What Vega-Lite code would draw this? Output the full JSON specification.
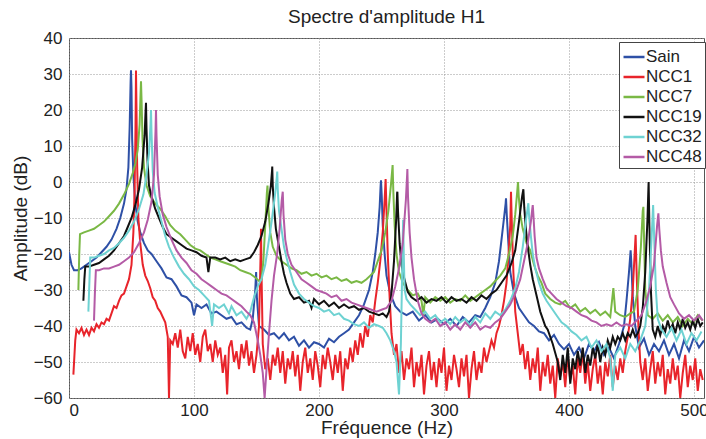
{
"$schema":"https://vega.github.io/schema/vega-lite/v6.json",
"width":635,"height":360,
"autosize":{"type":"none"},
"padding":{"left":69,"top":38,"right":2,"bottom":41},
"background":"white",
"title":{"text":"Spectre d'amplitude H1","fontSize":19,"fontWeight":"normal","font":"Liberation Sans","color":"#222","baseline":"bottom","offset":-17,"anchor":"middle"},
"config":{
"font":"Liberation Sans",
"view":{"stroke":"#555","strokeWidth":1},
"axis":{"domain":false,"ticks":false,"grid":true,"gridColor":"#999","gridDash":[1,2],"gridWidth":1,"labelFontSize":17,"labelColor":"#222","titleFontSize":19,"titleFontWeight":"normal","titleColor":"#222","labelFont":"Liberation Sans","titleFont":"Liberation Sans"}
},
"datasets":{
"sain":[{"f":0,"a":-19.5},{"f":2,"a":-23},{"f":4,"a":-24.5},{"f":7,"a":-24.5},{"f":10,"a":-24},{"f":14,"a":-23},{"f":18,"a":-22},{"f":22,"a":-21},{"f":26,"a":-19.5},{"f":30,"a":-18},{"f":34,"a":-16},{"f":38,"a":-13},{"f":41,"a":-10},{"f":44,"a":-6},{"f":46,"a":-2},{"f":47.5,"a":4},{"f":48.5,"a":15},{"f":49.3,"a":28},{"f":49.6,"a":31},{"f":50,"a":26},{"f":50.5,"a":12},{"f":51.5,"a":2},{"f":53,"a":-6},{"f":55,"a":-11},{"f":57,"a":-14},{"f":60,"a":-17},{"f":63,"a":-19},{"f":66,"a":-20},{"f":70,"a":-22},{"f":74,"a":-24},{"f":78,"a":-26.5},{"f":82,"a":-27},{"f":86,"a":-29},{"f":90,"a":-31.5},{"f":94,"a":-32},{"f":98,"a":-33.5},{"f":100,"a":-37},{"f":102,"a":-34},{"f":106,"a":-35},{"f":110,"a":-34},{"f":114,"a":-36.5},{"f":118,"a":-36},{"f":122,"a":-37},{"f":126,"a":-38},{"f":130,"a":-37.5},{"f":134,"a":-39.5},{"f":138,"a":-39},{"f":142,"a":-40.5},{"f":145,"a":-41},{"f":147,"a":-38},{"f":149,"a":-30},{"f":149.7,"a":-25},{"f":150.3,"a":-32},{"f":152,"a":-40},{"f":156,"a":-41},{"f":160,"a":-42.5},{"f":164,"a":-42},{"f":168,"a":-43.5},{"f":172,"a":-42},{"f":176,"a":-44},{"f":180,"a":-43},{"f":184,"a":-45.5},{"f":188,"a":-44},{"f":192,"a":-46},{"f":196,"a":-44.5},{"f":200,"a":-45},{"f":204,"a":-46},{"f":208,"a":-43.5},{"f":212,"a":-44.5},{"f":216,"a":-43},{"f":220,"a":-42},{"f":224,"a":-41},{"f":228,"a":-39},{"f":232,"a":-37},{"f":236,"a":-34},{"f":240,"a":-30},{"f":243,"a":-25},{"f":245,"a":-20},{"f":247,"a":-14},{"f":248.5,"a":-7},{"f":249.3,"a":-1},{"f":249.6,"a":0.5},{"f":250.2,"a":-4},{"f":251,"a":-12},{"f":252.5,"a":-20},{"f":254,"a":-26},{"f":257,"a":-31},{"f":261,"a":-34.5},{"f":265,"a":-36},{"f":270,"a":-37},{"f":275,"a":-36},{"f":280,"a":-38.5},{"f":285,"a":-37},{"f":290,"a":-39},{"f":295,"a":-38},{"f":300,"a":-39.5},{"f":305,"a":-38},{"f":310,"a":-40},{"f":315,"a":-37.5},{"f":320,"a":-39},{"f":325,"a":-37},{"f":329,"a":-37.5},{"f":333,"a":-35},{"f":337,"a":-32},{"f":341,"a":-28},{"f":344,"a":-22},{"f":346,"a":-16},{"f":348,"a":-10},{"f":349.3,"a":-6},{"f":349.6,"a":-4.5},{"f":350.2,"a":-9},{"f":351.5,"a":-17},{"f":353,"a":-25},{"f":356,"a":-31},{"f":360,"a":-35},{"f":364,"a":-37},{"f":368,"a":-39},{"f":372,"a":-40},{"f":376,"a":-41.5},{"f":380,"a":-42},{"f":384,"a":-44},{"f":388,"a":-42.5},{"f":392,"a":-45},{"f":396,"a":-46.5},{"f":400,"a":-45},{"f":404,"a":-48},{"f":408,"a":-46},{"f":412,"a":-49},{"f":416,"a":-45},{"f":420,"a":-47},{"f":424,"a":-44.5},{"f":428,"a":-48},{"f":432,"a":-46},{"f":436,"a":-49},{"f":440,"a":-45},{"f":444,"a":-40},{"f":446,"a":-33},{"f":448,"a":-25},{"f":449.3,"a":-19},{"f":449.8,"a":-22},{"f":451,"a":-32},{"f":453,"a":-40},{"f":456,"a":-46},{"f":460,"a":-43.5},{"f":464,"a":-48},{"f":468,"a":-45},{"f":472,"a":-47},{"f":476,"a":-44},{"f":480,"a":-48},{"f":484,"a":-45},{"f":488,"a":-49},{"f":492,"a":-44},{"f":496,"a":-47},{"f":500,"a":-43},{"f":504,"a":-46},{"f":508,"a":-44}],
"ncc1":[{"f":3.5,"a":-53.5},{"f":5,"a":-44},{"f":6,"a":-41},{"f":8,"a":-42},{"f":10,"a":-40.5},{"f":12,"a":-42.5},{"f":14,"a":-41},{"f":16,"a":-42.5},{"f":18,"a":-40.5},{"f":20,"a":-41.5},{"f":22,"a":-39.5},{"f":24,"a":-40.5},{"f":26,"a":-39},{"f":28,"a":-39.5},{"f":30,"a":-38},{"f":32,"a":-38.5},{"f":34,"a":-36.5},{"f":36,"a":-34.5},{"f":38,"a":-35},{"f":40,"a":-33},{"f":42,"a":-31.5},{"f":44,"a":-31},{"f":46,"a":-29},{"f":48,"a":-27},{"f":50,"a":-23},{"f":51.5,"a":-14},{"f":52.5,"a":-2},{"f":53.2,"a":15},{"f":53.6,"a":31},{"f":54,"a":20},{"f":54.5,"a":5},{"f":55.5,"a":-10},{"f":57,"a":-17},{"f":59,"a":-23},{"f":61,"a":-26},{"f":63,"a":-27.5},{"f":65,"a":-29.5},{"f":67,"a":-32},{"f":69,"a":-33},{"f":71,"a":-35},{"f":73,"a":-36},{"f":75,"a":-37.5},{"f":77,"a":-39},{"f":79,"a":-43},{"f":80,"a":-60},{"f":81,"a":-44},{"f":83,"a":-45},{"f":85,"a":-42},{"f":87,"a":-46},{"f":89,"a":-41},{"f":91,"a":-47},{"f":93,"a":-49},{"f":95,"a":-43},{"f":97,"a":-47},{"f":99,"a":-42},{"f":101,"a":-48},{"f":103,"a":-45},{"f":105,"a":-50},{"f":107,"a":-43},{"f":109,"a":-41},{"f":111,"a":-47},{"f":113,"a":-45},{"f":115,"a":-50},{"f":117,"a":-44},{"f":119,"a":-48},{"f":121,"a":-46},{"f":123,"a":-53},{"f":125,"a":-48},{"f":126.5,"a":-59},{"f":128,"a":-46},{"f":130,"a":-44},{"f":132,"a":-50},{"f":134,"a":-47},{"f":136,"a":-52},{"f":138,"a":-45},{"f":140,"a":-49},{"f":142,"a":-44},{"f":144,"a":-51},{"f":146,"a":-47},{"f":148,"a":-53},{"f":150,"a":-48},{"f":152,"a":-40},{"f":153.3,"a":-20},{"f":153.6,"a":-13},{"f":154,"a":-25},{"f":155,"a":-45},{"f":157,"a":-52},{"f":159,"a":-49},{"f":161,"a":-55},{"f":163,"a":-48},{"f":165,"a":-51},{"f":167,"a":-46},{"f":169,"a":-53},{"f":171,"a":-47},{"f":173,"a":-56},{"f":175,"a":-49},{"f":177,"a":-52},{"f":179,"a":-47},{"f":181,"a":-54},{"f":183,"a":-48},{"f":185,"a":-58},{"f":187,"a":-50},{"f":189,"a":-46},{"f":191,"a":-53},{"f":193,"a":-49},{"f":195,"a":-55},{"f":197,"a":-47},{"f":199,"a":-51},{"f":201,"a":-57},{"f":203,"a":-48},{"f":205,"a":-52},{"f":207,"a":-46},{"f":209,"a":-50},{"f":211,"a":-55},{"f":213,"a":-48},{"f":215,"a":-53},{"f":217,"a":-47},{"f":219,"a":-58},{"f":221,"a":-49},{"f":223,"a":-52},{"f":225,"a":-46},{"f":227,"a":-50},{"f":229,"a":-44},{"f":231,"a":-48},{"f":233,"a":-42},{"f":235,"a":-46},{"f":237,"a":-40},{"f":239,"a":-43},{"f":241,"a":-37},{"f":243,"a":-39},{"f":245,"a":-33},{"f":247,"a":-28},{"f":249,"a":-22},{"f":251,"a":-14},{"f":252.5,"a":-5},{"f":253.3,"a":0.8},{"f":254,"a":-8},{"f":255,"a":-20},{"f":256.5,"a":-32},{"f":258,"a":-42},{"f":260,"a":-48},{"f":262,"a":-45},{"f":264,"a":-53},{"f":266,"a":-47},{"f":268,"a":-55},{"f":270,"a":-49},{"f":272,"a":-52},{"f":274,"a":-46},{"f":276,"a":-57},{"f":278,"a":-50},{"f":280,"a":-54},{"f":282,"a":-48},{"f":284,"a":-59},{"f":286,"a":-51},{"f":288,"a":-47},{"f":290,"a":-55},{"f":292,"a":-50},{"f":294,"a":-57},{"f":296,"a":-49},{"f":298,"a":-53},{"f":300,"a":-46},{"f":302,"a":-58},{"f":304,"a":-51},{"f":306,"a":-55},{"f":308,"a":-48},{"f":310,"a":-52},{"f":312,"a":-57},{"f":314,"a":-49},{"f":316,"a":-54},{"f":318,"a":-48},{"f":320,"a":-60},{"f":322,"a":-52},{"f":324,"a":-47},{"f":326,"a":-55},{"f":328,"a":-50},{"f":330,"a":-53},{"f":332,"a":-46},{"f":334,"a":-50},{"f":336,"a":-47},{"f":338,"a":-44},{"f":340,"a":-46},{"f":342,"a":-42},{"f":344,"a":-40},{"f":346,"a":-37},{"f":348,"a":-33},{"f":350,"a":-28},{"f":351.5,"a":-21},{"f":353,"a":-12},{"f":353.6,"a":-2.7},{"f":354.3,"a":-12},{"f":355.5,"a":-25},{"f":357,"a":-36},{"f":359,"a":-42},{"f":361,"a":-48},{"f":363,"a":-45},{"f":365,"a":-52},{"f":367,"a":-47},{"f":369,"a":-55},{"f":371,"a":-49},{"f":373,"a":-53},{"f":375,"a":-46},{"f":377,"a":-58},{"f":379,"a":-50},{"f":381,"a":-54},{"f":383,"a":-48},{"f":385,"a":-56},{"f":387,"a":-51},{"f":389,"a":-60},{"f":391,"a":-49},{"f":393,"a":-54},{"f":395,"a":-50},{"f":397,"a":-57},{"f":399,"a":-48},{"f":401,"a":-55},{"f":403,"a":-51},{"f":405,"a":-59},{"f":407,"a":-49},{"f":409,"a":-53},{"f":411,"a":-47},{"f":413,"a":-56},{"f":415,"a":-50},{"f":417,"a":-58},{"f":419,"a":-52},{"f":421,"a":-48},{"f":423,"a":-56},{"f":425,"a":-51},{"f":427,"a":-59},{"f":429,"a":-50},{"f":431,"a":-54},{"f":433,"a":-48},{"f":435,"a":-57},{"f":437,"a":-51},{"f":439,"a":-55},{"f":441,"a":-49},{"f":443,"a":-53},{"f":445,"a":-47},{"f":447,"a":-43},{"f":449,"a":-38},{"f":451,"a":-30},{"f":452.5,"a":-20},{"f":453.3,"a":-14.7},{"f":454,"a":-24},{"f":455.5,"a":-40},{"f":457,"a":-50},{"f":459,"a":-55},{"f":461,"a":-49},{"f":463,"a":-58},{"f":465,"a":-52},{"f":467,"a":-47},{"f":469,"a":-56},{"f":471,"a":-50},{"f":473,"a":-54},{"f":475,"a":-48},{"f":477,"a":-59},{"f":479,"a":-52},{"f":481,"a":-56},{"f":483,"a":-49},{"f":485,"a":-55},{"f":487,"a":-51},{"f":489,"a":-60},{"f":491,"a":-53},{"f":493,"a":-48},{"f":495,"a":-57},{"f":497,"a":-51},{"f":499,"a":-55},{"f":501,"a":-49},{"f":503,"a":-58},{"f":505,"a":-52},{"f":507,"a":-55}],
"ncc7":[{"f":7.5,"a":-30},{"f":8.2,"a":-20},{"f":8.8,"a":-14.5},{"f":12,"a":-14},{"f":16,"a":-13.5},{"f":20,"a":-13},{"f":24,"a":-12},{"f":28,"a":-11},{"f":32,"a":-9.5},{"f":36,"a":-8},{"f":40,"a":-6},{"f":44,"a":-3.5},{"f":48,"a":-0.5},{"f":51,"a":2.5},{"f":53,"a":5},{"f":55,"a":9},{"f":56.5,"a":16},{"f":57.2,"a":24},{"f":57.6,"a":28},{"f":58.1,"a":22},{"f":58.8,"a":12},{"f":60,"a":4},{"f":62,"a":-1},{"f":65,"a":-4},{"f":69,"a":-6},{"f":73,"a":-7.5},{"f":77,"a":-9.5},{"f":81,"a":-12},{"f":85,"a":-13.5},{"f":89,"a":-14.5},{"f":93,"a":-16},{"f":97,"a":-17.5},{"f":101,"a":-18.5},{"f":105,"a":-19},{"f":109,"a":-20},{"f":113,"a":-21},{"f":117,"a":-21.5},{"f":121,"a":-22},{"f":125,"a":-22.5},{"f":129,"a":-23},{"f":133,"a":-23.5},{"f":137,"a":-24.5},{"f":141,"a":-25},{"f":145,"a":-25.5},{"f":149,"a":-26.5},{"f":152,"a":-27.5},{"f":154,"a":-27},{"f":155.5,"a":-22},{"f":157,"a":-12},{"f":158.3,"a":-3},{"f":158.8,"a":-1},{"f":159.5,"a":-7},{"f":161,"a":-14},{"f":163,"a":-18},{"f":166,"a":-20.5},{"f":170,"a":-22},{"f":174,"a":-23},{"f":178,"a":-24},{"f":182,"a":-24.5},{"f":186,"a":-25.5},{"f":190,"a":-25},{"f":194,"a":-26},{"f":198,"a":-25.5},{"f":202,"a":-26.5},{"f":206,"a":-26},{"f":210,"a":-27},{"f":214,"a":-26.5},{"f":218,"a":-27.5},{"f":222,"a":-27},{"f":226,"a":-28},{"f":230,"a":-27.5},{"f":234,"a":-28},{"f":238,"a":-27},{"f":241,"a":-26},{"f":244,"a":-25},{"f":247,"a":-22},{"f":250,"a":-19},{"f":253,"a":-14},{"f":255.5,"a":-8},{"f":257.5,"a":-1},{"f":258.5,"a":3},{"f":258.9,"a":4.7},{"f":259.4,"a":-2},{"f":260.5,"a":-12},{"f":262,"a":-20},{"f":264,"a":-25},{"f":267,"a":-28},{"f":271,"a":-30},{"f":275,"a":-31.5},{"f":279,"a":-31},{"f":282,"a":-33},{"f":283.5,"a":-37},{"f":285,"a":-32},{"f":289,"a":-33.5},{"f":293,"a":-32},{"f":297,"a":-33},{"f":301,"a":-32},{"f":305,"a":-33.5},{"f":309,"a":-32.5},{"f":313,"a":-33},{"f":317,"a":-31.5},{"f":321,"a":-33},{"f":325,"a":-32},{"f":329,"a":-31},{"f":333,"a":-30},{"f":337,"a":-29},{"f":341,"a":-27.5},{"f":345,"a":-26},{"f":349,"a":-24},{"f":352,"a":-20},{"f":355,"a":-15},{"f":357,"a":-9},{"f":358.5,"a":-3},{"f":359.2,"a":0},{"f":359.8,"a":-4},{"f":361,"a":-9},{"f":363,"a":-13},{"f":366,"a":-17},{"f":369,"a":-19},{"f":372,"a":-23},{"f":375,"a":-26},{"f":378,"a":-28},{"f":381,"a":-31},{"f":385,"a":-32.5},{"f":389,"a":-33.5},{"f":393,"a":-34},{"f":397,"a":-33},{"f":401,"a":-35},{"f":405,"a":-34},{"f":409,"a":-36},{"f":413,"a":-35},{"f":417,"a":-36.5},{"f":421,"a":-35.5},{"f":425,"a":-37},{"f":429,"a":-36},{"f":433,"a":-37.5},{"f":435.5,"a":-29.5},{"f":437,"a":-36},{"f":441,"a":-37},{"f":445,"a":-37.5},{"f":449,"a":-36.5},{"f":452,"a":-36},{"f":455,"a":-30},{"f":457.5,"a":-18},{"f":459,"a":-8},{"f":459.5,"a":-6.9},{"f":460,"a":-15},{"f":461,"a":-30},{"f":463,"a":-37},{"f":467,"a":-38},{"f":471,"a":-36.5},{"f":475,"a":-38.5},{"f":479,"a":-37},{"f":483,"a":-39},{"f":487,"a":-37.5},{"f":491,"a":-40},{"f":495,"a":-38},{"f":499,"a":-39.5},{"f":503,"a":-37},{"f":507,"a":-38.5}],
"ncc19":[{"f":11.5,"a":-33},{"f":12.3,"a":-27},{"f":13,"a":-23.5},{"f":16,"a":-23.5},{"f":20,"a":-23},{"f":24,"a":-22.5},{"f":28,"a":-21.5},{"f":32,"a":-20.5},{"f":36,"a":-19},{"f":40,"a":-17},{"f":44,"a":-15},{"f":47,"a":-12.5},{"f":50,"a":-10},{"f":53,"a":-6.5},{"f":56,"a":-2},{"f":58.5,"a":4},{"f":60.5,"a":13},{"f":61.3,"a":20},{"f":61.6,"a":22},{"f":62,"a":15},{"f":62.8,"a":6},{"f":64,"a":-1},{"f":66,"a":-4},{"f":69,"a":-7.5},{"f":72,"a":-10},{"f":75,"a":-12.5},{"f":78,"a":-14.5},{"f":82,"a":-15.5},{"f":86,"a":-16.5},{"f":90,"a":-17.5},{"f":94,"a":-18.5},{"f":98,"a":-19},{"f":102,"a":-19.5},{"f":106,"a":-20.5},{"f":110,"a":-21},{"f":111.5,"a":-25},{"f":113,"a":-21},{"f":117,"a":-21},{"f":121,"a":-21.5},{"f":125,"a":-21},{"f":129,"a":-22},{"f":133,"a":-21.5},{"f":137,"a":-22},{"f":141,"a":-21.5},{"f":145,"a":-21},{"f":148,"a":-19.5},{"f":151,"a":-17.5},{"f":154,"a":-15},{"f":157,"a":-11},{"f":159.5,"a":-6},{"f":161.5,"a":-1},{"f":162.4,"a":3},{"f":162.6,"a":4.3},{"f":163,"a":-1},{"f":164,"a":-7},{"f":165.5,"a":-13},{"f":168,"a":-18},{"f":170,"a":-22},{"f":172,"a":-25.5},{"f":174,"a":-28},{"f":177,"a":-31},{"f":180,"a":-32.5},{"f":184,"a":-32},{"f":188,"a":-33.5},{"f":192,"a":-33},{"f":194,"a":-35},{"f":196,"a":-32.5},{"f":200,"a":-34},{"f":204,"a":-33},{"f":208,"a":-34.5},{"f":212,"a":-33.5},{"f":216,"a":-35},{"f":220,"a":-34},{"f":224,"a":-35},{"f":228,"a":-34.5},{"f":232,"a":-35.5},{"f":236,"a":-35},{"f":240,"a":-36},{"f":244,"a":-36.5},{"f":248,"a":-37},{"f":251,"a":-36.5},{"f":254,"a":-37.5},{"f":256,"a":-36},{"f":258,"a":-31},{"f":260,"a":-22},{"f":261.8,"a":-10},{"f":262.5,"a":-3},{"f":262.7,"a":-2.7},{"f":263.2,"a":-8},{"f":264.5,"a":-17},{"f":266,"a":-23},{"f":268,"a":-26.5},{"f":271,"a":-30.5},{"f":274,"a":-32},{"f":278,"a":-33},{"f":282,"a":-32},{"f":286,"a":-33.5},{"f":290,"a":-32.5},{"f":294,"a":-33},{"f":298,"a":-32},{"f":302,"a":-33.5},{"f":306,"a":-32},{"f":310,"a":-33},{"f":314,"a":-32.5},{"f":318,"a":-33.5},{"f":322,"a":-32},{"f":326,"a":-33},{"f":330,"a":-31.5},{"f":334,"a":-32.5},{"f":338,"a":-31},{"f":342,"a":-30},{"f":346,"a":-28},{"f":350,"a":-26},{"f":354,"a":-22.5},{"f":357,"a":-19},{"f":360,"a":-11},{"f":362.5,"a":-4},{"f":363.5,"a":-2},{"f":364.2,"a":-7},{"f":365.5,"a":-13},{"f":367,"a":-18},{"f":369,"a":-23},{"f":371,"a":-27},{"f":373,"a":-30},{"f":375,"a":-33},{"f":377,"a":-36},{"f":379,"a":-38},{"f":381,"a":-40},{"f":383,"a":-41},{"f":385,"a":-43},{"f":387,"a":-45},{"f":389,"a":-47.5},{"f":391,"a":-50},{"f":393,"a":-55},{"f":395,"a":-48},{"f":397,"a":-53},{"f":399,"a":-46},{"f":401,"a":-56},{"f":403,"a":-49},{"f":405,"a":-52},{"f":407,"a":-47},{"f":409,"a":-51},{"f":411,"a":-46},{"f":413,"a":-53},{"f":415,"a":-48},{"f":417,"a":-51},{"f":419,"a":-46},{"f":421,"a":-49},{"f":423,"a":-45},{"f":425,"a":-50},{"f":427,"a":-46},{"f":429,"a":-48},{"f":431,"a":-44},{"f":433,"a":-46},{"f":435,"a":-43},{"f":437,"a":-45},{"f":439,"a":-43},{"f":441,"a":-44},{"f":443,"a":-42},{"f":445,"a":-44},{"f":447,"a":-42},{"f":449,"a":-43},{"f":451,"a":-41},{"f":453,"a":-43},{"f":455,"a":-42},{"f":457,"a":-40},{"f":459,"a":-35},{"f":461,"a":-25},{"f":462.8,"a":-10},{"f":463.5,"a":-2},{"f":463.7,"a":0},{"f":464.3,"a":-12},{"f":465.5,"a":-30},{"f":467,"a":-41},{"f":469,"a":-43},{"f":471,"a":-40},{"f":473,"a":-42.5},{"f":475,"a":-40},{"f":477,"a":-41.5},{"f":479,"a":-38.5},{"f":481,"a":-41},{"f":483,"a":-39.5},{"f":485,"a":-42},{"f":487,"a":-39},{"f":489,"a":-41},{"f":491,"a":-38},{"f":493,"a":-40.5},{"f":495,"a":-39},{"f":497,"a":-41},{"f":499,"a":-38.5},{"f":501,"a":-40.5},{"f":503,"a":-38},{"f":505,"a":-40},{"f":507,"a":-39}],
"ncc32":[{"f":15.5,"a":-36},{"f":16.3,"a":-28},{"f":17,"a":-21},{"f":20,"a":-21},{"f":24,"a":-20.5},{"f":28,"a":-20},{"f":32,"a":-19},{"f":36,"a":-18.3},{"f":40,"a":-17},{"f":44,"a":-15.5},{"f":48,"a":-13.5},{"f":52,"a":-11},{"f":56,"a":-7.5},{"f":59.5,"a":-3.5},{"f":62,"a":2},{"f":64,"a":8},{"f":65.2,"a":16},{"f":65.6,"a":20},{"f":66,"a":14},{"f":67,"a":3},{"f":68.5,"a":-3},{"f":71,"a":-7},{"f":74,"a":-11},{"f":77,"a":-15},{"f":80,"a":-18},{"f":84,"a":-21},{"f":88,"a":-23.5},{"f":92,"a":-25.5},{"f":96,"a":-27},{"f":100,"a":-29},{"f":104,"a":-30},{"f":108,"a":-31.5},{"f":112,"a":-33},{"f":114.5,"a":-40},{"f":116,"a":-34},{"f":120,"a":-35},{"f":124,"a":-34},{"f":128,"a":-36.5},{"f":130,"a":-34.5},{"f":134,"a":-37},{"f":138,"a":-36},{"f":142,"a":-38},{"f":145,"a":-36},{"f":148,"a":-32},{"f":151,"a":-29},{"f":154,"a":-27},{"f":157,"a":-23},{"f":160,"a":-16},{"f":162.5,"a":-10},{"f":165,"a":-3},{"f":166.3,"a":1.5},{"f":166.6,"a":2.9},{"f":167,"a":-2},{"f":168,"a":-8},{"f":170,"a":-13},{"f":172,"a":-18},{"f":174,"a":-21},{"f":177,"a":-25},{"f":180,"a":-28.5},{"f":184,"a":-31},{"f":188,"a":-32.5},{"f":192,"a":-33.5},{"f":196,"a":-34.5},{"f":200,"a":-35},{"f":204,"a":-36},{"f":208,"a":-35.5},{"f":212,"a":-37},{"f":216,"a":-36.5},{"f":220,"a":-38},{"f":224,"a":-38.5},{"f":228,"a":-39.5},{"f":232,"a":-40},{"f":236,"a":-39},{"f":240,"a":-40.5},{"f":244,"a":-39.5},{"f":248,"a":-40},{"f":251,"a":-40.5},{"f":254,"a":-42},{"f":257,"a":-44},{"f":260,"a":-47},{"f":262,"a":-50},{"f":264,"a":-59},{"f":265.5,"a":-45},{"f":266.8,"a":-20},{"f":267.3,"a":-10.5},{"f":267.8,"a":-20},{"f":268.5,"a":-30},{"f":270,"a":-32.5},{"f":273,"a":-34},{"f":277,"a":-35.5},{"f":281,"a":-37},{"f":285,"a":-36},{"f":289,"a":-38},{"f":293,"a":-37},{"f":297,"a":-39},{"f":301,"a":-38},{"f":305,"a":-39.5},{"f":309,"a":-37.5},{"f":313,"a":-39},{"f":317,"a":-38},{"f":321,"a":-40},{"f":325,"a":-37.5},{"f":329,"a":-39},{"f":333,"a":-36.5},{"f":337,"a":-38},{"f":341,"a":-36},{"f":345,"a":-37},{"f":349,"a":-35.5},{"f":353,"a":-33},{"f":357,"a":-29.5},{"f":360,"a":-25},{"f":363,"a":-18},{"f":365.5,"a":-11},{"f":367,"a":-7},{"f":367.5,"a":-5.9},{"f":368,"a":-9},{"f":369.5,"a":-15},{"f":371,"a":-20},{"f":373,"a":-24},{"f":376,"a":-28},{"f":379,"a":-31},{"f":382,"a":-33},{"f":386,"a":-35},{"f":390,"a":-37},{"f":394,"a":-39},{"f":398,"a":-40},{"f":402,"a":-41.5},{"f":406,"a":-42.5},{"f":410,"a":-44},{"f":414,"a":-43},{"f":418,"a":-46},{"f":422,"a":-44},{"f":426,"a":-47},{"f":430,"a":-45},{"f":433,"a":-49},{"f":435,"a":-58},{"f":437,"a":-48},{"f":441,"a":-46},{"f":445,"a":-49},{"f":449,"a":-45},{"f":453,"a":-47},{"f":457,"a":-44},{"f":461,"a":-40},{"f":464,"a":-30},{"f":466,"a":-16},{"f":467.3,"a":-6.4},{"f":468,"a":-14},{"f":469.5,"a":-30},{"f":471,"a":-38},{"f":474,"a":-41},{"f":478,"a":-43},{"f":482,"a":-40.5},{"f":486,"a":-44},{"f":490,"a":-41},{"f":494,"a":-45},{"f":498,"a":-42},{"f":502,"a":-44},{"f":506,"a":-41.5}],
"ncc48":[{"f":20,"a":-38.5},{"f":20.7,"a":-31},{"f":21.5,"a":-24.5},{"f":24,"a":-24.5},{"f":28,"a":-24},{"f":32,"a":-24},{"f":36,"a":-23.5},{"f":40,"a":-23},{"f":44,"a":-22},{"f":48,"a":-21},{"f":52,"a":-19.5},{"f":56,"a":-17},{"f":60,"a":-14},{"f":63,"a":-10.5},{"f":66,"a":-5.5},{"f":68,"a":2},{"f":69.2,"a":14},{"f":69.6,"a":20},{"f":70,"a":13},{"f":71,"a":2},{"f":72.5,"a":-4},{"f":75,"a":-9},{"f":78,"a":-12.5},{"f":82,"a":-16},{"f":86,"a":-19},{"f":90,"a":-21},{"f":94,"a":-22.5},{"f":98,"a":-24.5},{"f":102,"a":-25.5},{"f":106,"a":-27},{"f":110,"a":-28},{"f":114,"a":-29},{"f":118,"a":-30},{"f":122,"a":-31},{"f":126,"a":-31.5},{"f":130,"a":-32.5},{"f":134,"a":-33.5},{"f":138,"a":-34.5},{"f":142,"a":-36},{"f":145,"a":-37},{"f":148,"a":-39},{"f":151,"a":-44},{"f":153,"a":-48},{"f":155,"a":-53},{"f":156.5,"a":-60},{"f":158,"a":-52},{"f":160,"a":-42},{"f":162,"a":-33},{"f":164,"a":-26},{"f":166.5,"a":-20},{"f":168.5,"a":-13},{"f":170.2,"a":-5},{"f":171,"a":-2.7},{"f":171.6,"a":-9},{"f":173,"a":-16},{"f":175,"a":-20},{"f":178,"a":-23},{"f":182,"a":-25},{"f":186,"a":-27},{"f":190,"a":-28},{"f":194,"a":-29},{"f":198,"a":-30},{"f":202,"a":-30.5},{"f":206,"a":-31},{"f":210,"a":-32},{"f":214,"a":-31.5},{"f":218,"a":-33},{"f":222,"a":-32.5},{"f":226,"a":-33.5},{"f":230,"a":-34},{"f":234,"a":-34.5},{"f":238,"a":-35},{"f":242,"a":-35.5},{"f":246,"a":-36},{"f":250,"a":-35.5},{"f":254,"a":-35},{"f":258,"a":-33},{"f":261,"a":-29},{"f":264,"a":-24},{"f":267,"a":-17},{"f":269.5,"a":-5},{"f":270.5,"a":2},{"f":270.7,"a":3.6},{"f":271.2,"a":-4},{"f":272.5,"a":-14},{"f":274,"a":-21},{"f":276,"a":-27},{"f":279,"a":-33},{"f":282,"a":-36.5},{"f":285,"a":-38},{"f":289,"a":-39},{"f":293,"a":-38},{"f":297,"a":-40},{"f":301,"a":-39},{"f":305,"a":-41},{"f":309,"a":-39.5},{"f":313,"a":-41},{"f":317,"a":-39},{"f":321,"a":-40.5},{"f":325,"a":-39},{"f":329,"a":-41},{"f":333,"a":-40},{"f":337,"a":-40.5},{"f":341,"a":-39},{"f":345,"a":-38},{"f":349,"a":-36},{"f":353,"a":-34},{"f":357,"a":-31},{"f":361,"a":-27},{"f":364,"a":-22},{"f":367,"a":-17},{"f":369.5,"a":-11},{"f":370.6,"a":-7.5},{"f":371,"a":-6.4},{"f":371.5,"a":-9},{"f":372.5,"a":-15},{"f":374,"a":-21},{"f":376,"a":-24},{"f":379,"a":-27},{"f":382,"a":-29.5},{"f":386,"a":-31},{"f":390,"a":-32.5},{"f":394,"a":-33.5},{"f":398,"a":-34.5},{"f":402,"a":-35},{"f":406,"a":-36},{"f":410,"a":-37},{"f":414,"a":-37.5},{"f":418,"a":-38.5},{"f":422,"a":-39},{"f":426,"a":-40},{"f":430,"a":-39.5},{"f":434,"a":-40},{"f":438,"a":-39},{"f":442,"a":-40},{"f":446,"a":-39.5},{"f":450,"a":-40},{"f":454,"a":-38.5},{"f":458,"a":-37},{"f":462,"a":-33},{"f":465,"a":-29},{"f":468,"a":-23},{"f":470.5,"a":-12},{"f":471.5,"a":-8.7},{"f":472.2,"a":-13},{"f":473.5,"a":-19},{"f":475,"a":-23.5},{"f":478,"a":-28},{"f":481,"a":-32},{"f":484,"a":-34},{"f":488,"a":-36.5},{"f":492,"a":-38},{"f":496,"a":-37},{"f":500,"a":-38.5},{"f":504,"a":-37},{"f":507,"a":-38.5}]
},
"encoding":{
"x":{"field":"f","type":"quantitative","title":"Fréquence (Hz)","scale":{"domain":[0,508],"nice":false,"zero":false},"axis":{"values":[0,100,200,300,400,500],"labelPadding":4,"titlePadding":0}},
"y":{"field":"a","type":"quantitative","title":"Amplitude (dB)","scale":{"domain":[-60,40],"nice":false,"zero":false},"axis":{"values":[-60,-50,-40,-30,-20,-10,0,10,20,30,40],"labelPadding":7,"titlePadding":3}}
},
"layer":[
{"data":{"name":"sain"},"mark":{"type":"line","strokeWidth":2,"clip":true},"encoding":{"color":{"datum":"Sain","type":"nominal","scale":{"domain":["Sain","NCC1","NCC7","NCC19","NCC32","NCC48"],"range":["#2E50A6","#E8242B","#7AB845","#111111","#6ED2D2","#B45BA6"]},"legend":{"title":null,"orient":"none","legendX":550,"legendY":4,"symbolType":"stroke","symbolStrokeWidth":2.5,"symbolSize":440,"labelFontSize":17,"labelFont":"Liberation Sans","labelColor":"#222","strokeColor":"#444","fillColor":"white","padding":3,"rowPadding":0,"labelOffset":0,"labelLimit":200}}}},
{"data":{"name":"ncc1"},"mark":{"type":"line","strokeWidth":2,"clip":true},"encoding":{"color":{"datum":"NCC1","type":"nominal"}}},
{"data":{"name":"ncc7"},"mark":{"type":"line","strokeWidth":2,"clip":true},"encoding":{"color":{"datum":"NCC7","type":"nominal"}}},
{"data":{"name":"ncc19"},"mark":{"type":"line","strokeWidth":2,"clip":true},"encoding":{"color":{"datum":"NCC19","type":"nominal"}}},
{"data":{"name":"ncc32"},"mark":{"type":"line","strokeWidth":2,"clip":true},"encoding":{"color":{"datum":"NCC32","type":"nominal"}}},
{"data":{"name":"ncc48"},"mark":{"type":"line","strokeWidth":2,"clip":true},"encoding":{"color":{"datum":"NCC48","type":"nominal"}}}
]
}
